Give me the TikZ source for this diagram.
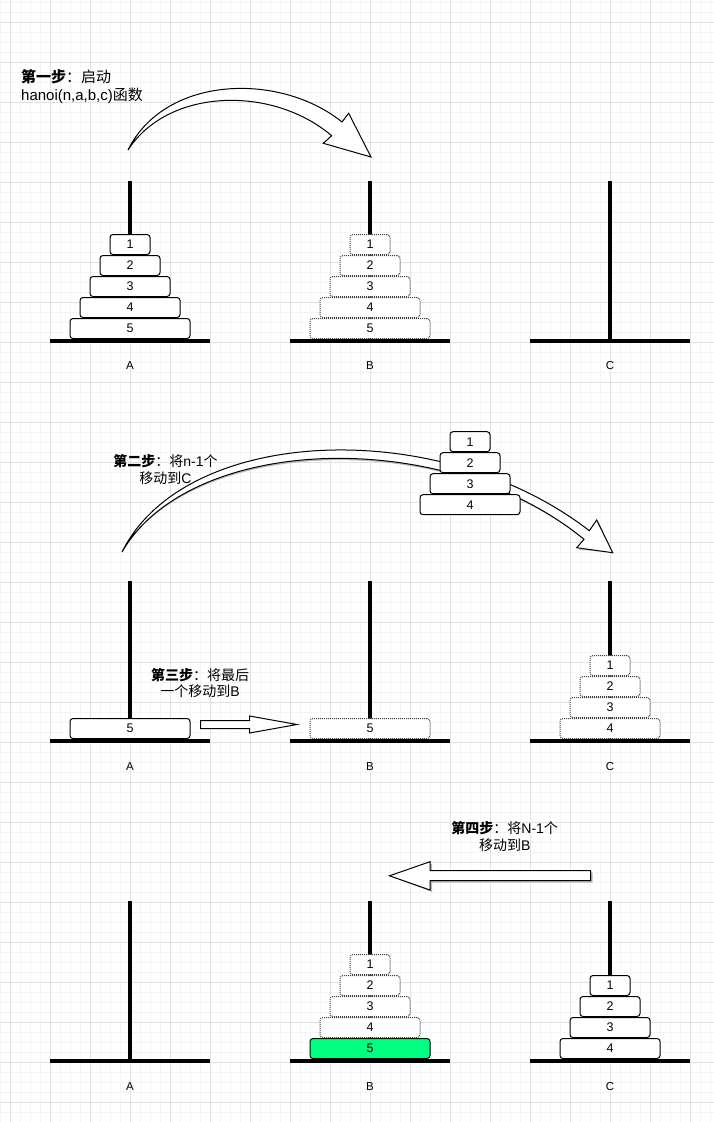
\documentclass[tikz,border=0pt]{standalone}
\usepackage{fontspec}
\setmainfont{Liberation Sans}
\newfontfamily\cjk{Noto Sans CJK SC}
\definecolor{gridminor}{RGB}{244,244,244}
\definecolor{gridmajor}{RGB}{226,226,226}
\definecolor{diskgreen}{RGB}{0,255,128}
\tikzset{
  disk/.style={draw=black, line width=1pt, fill=white, rounded corners=3pt,
    minimum height=20pt, inner sep=0pt, font=\fontsize{12.5}{14}\selectfont},
  ghost/.style={disk, draw=black!75, dash pattern=on 1pt off 1pt},
  pole/.style={line width=4pt},
  baseline/.style={line width=4pt},
  lbl/.style={font=\fontsize{11.5}{13}\selectfont, inner sep=0pt},
  steptxt/.style={align=center, inner sep=0pt, font=\fontsize{14}{16.5}\selectfont},
  blockarrow/.style={draw=black, line width=1pt, fill=white, line join=miter},
  arrowshadow/.style={fill=black!28, draw=none},
}
\begin{document}
\begin{tikzpicture}[x=1pt,y=-1pt]
\useasboundingbox (0,0) rectangle (714,1122);
\fill[white] (0,0) rectangle (714,1122);
% grid
\foreach \k in {0,...,71} \draw[gridminor, line width=1pt] ({10*\k},0) -- ({10*\k},1122);
\foreach \k in {0,...,111} \draw[gridminor, line width=1pt] (0,{2.7+10*\k}) -- (714,{2.7+10*\k});
\foreach \k in {0,...,17} \draw[gridmajor, line width=1pt] ({10+40*\k},0) -- ({10+40*\k},1122);
\foreach \k in {0,...,27} \draw[gridmajor, line width=1pt] (0,{22.7+40*\k}) -- (714,{22.7+40*\k});

% ---------- towers ----------
\foreach \p/\yb/\yt/\yl in {1/341/181/366, 2/741/581/767, 3/1061/901/1087}{
  \foreach \t/\cx in {A/130, B/370, C/610}{
    \coordinate (top\t\p) at (\cx,\yt);
    \coordinate (bot\t\p) at (\cx,\yb);
    \coordinate (bl\t\p) at ({\cx-80},\yb);
    \coordinate (br\t\p) at ({\cx+80},\yb);
    \draw[pole] (top\t\p) -- (bot\t\p);
    \draw[baseline] (bl\t\p) -- (br\t\p);
    \node[lbl] (lab\t\p) at (\cx,\yl) {\t};
  }
}

% ---------- step 1 ----------
\node[anchor=west, align=left, inner sep=0pt, font=\fontsize{15}{18.7}\selectfont] (s1) at (21,86.6)
  {{\cjk\bfseries 第一步}{\cjk ：启动}\\hanoi(n,a,b,c){\cjk 函数}};
\coordinate (a1tail) at (128,150);
\coordinate (a1tip) at (371,157);
\draw[blockarrow] (a1tail) .. controls (165,75) and (280,72) .. (342,122)
  -- (348.7,113.3) -- (a1tip) -- (323.3,143.3) -- (331.7,135.7)
  .. controls (272,85) and (168,88) .. (a1tail) -- cycle;

\foreach \n/\w/\y in {1/40/244.5, 2/60/265.5, 3/80/286.5, 4/100/307.5, 5/120/328.5}{
  \node[disk, minimum width=\w pt] (pA\n) at (130,\y) {\n};
  \node[ghost, minimum width=\w pt] (pB\n) at (370,\y) {\n};
}

% ---------- step 2 ----------
\node[steptxt] (s2) at (165.5,469.5)
  {{\cjk\bfseries 第二步}{\cjk ：将}n-1{\cjk 个}\\{\cjk 移动到}C};
\coordinate (a2tail) at (122,552);
\coordinate (a2tip) at (612.7,552.7);
\def\arrowtwo{(a2tail) .. controls (185,425) and (440,415) .. (589.3,530.7)
  -- (596.7,520) -- (a2tip) -- (576.7,547.7) -- (584,539.3)
  .. controls (445,425) and (190,434) .. (a2tail) -- cycle}
\fill[arrowshadow, shift={(2,2)}] \arrowtwo;
\draw[blockarrow] \arrowtwo;
\foreach \n/\w/\y in {1/40/441.7, 2/60/462.7, 3/80/483.7, 4/100/504.7}{
  \node[disk, minimum width=\w pt] (m\n) at (470,\y) {\n};
}

% ---------- step 3 ----------
\node[disk, minimum width=120pt] (qA5) at (130,728.5) {5};
\node[ghost, minimum width=120pt] (qB5) at (370,728.5) {5};
\foreach \n/\w/\y in {1/40/665.5, 2/60/686.5, 3/80/707.5, 4/100/728.5}{
  \node[ghost, minimum width=\w pt] (qC\n) at (610,\y) {\n};
}
\node[steptxt] (s3) at (200,683) {{\cjk\bfseries 第三步}{\cjk ：将最后}\\{\cjk 一个移动到}B};
\coordinate (a3tail) at (200.5,724.5);
\coordinate (a3tip) at (297,724.5);
\draw[blockarrow] (200.5,720.5) -- (249.5,720.5) -- (249.5,716) -- (a3tip)
  -- (249.5,733) -- (249.5,728.5) -- (200.5,728.5) -- cycle;

% ---------- step 4 ----------
\node[steptxt] (s4) at (504.7,836.7) {{\cjk\bfseries 第四步}{\cjk ：将}N-1{\cjk 个}\\{\cjk 移动到}B};
\coordinate (a4tail) at (590.5,875.5);
\coordinate (a4tip) at (389.5,875.8);
\def\arrowfour{(590.5,870.5) -- (430,870.5) -- (430,861.7) -- (a4tip)
  -- (430,890) -- (430,880.5) -- (590.5,880.5) -- cycle}
\fill[arrowshadow, shift={(2,2)}] \arrowfour;
\draw[blockarrow] \arrowfour;

\foreach \n/\w/\y in {1/40/964.5, 2/60/985.5, 3/80/1006.5, 4/100/1027.5}{
  \node[ghost, minimum width=\w pt] (rB\n) at (370,\y) {\n};
}
\node[disk, fill=diskgreen, minimum width=120pt] (rB5) at (370,1048.5) {5};
\foreach \n/\w/\y in {1/40/985.5, 2/60/1006.5, 3/80/1027.5, 4/100/1048.5}{
  \node[disk, minimum width=\w pt] (rC\n) at (610,\y) {\n};
}
\end{tikzpicture}
\end{document}
